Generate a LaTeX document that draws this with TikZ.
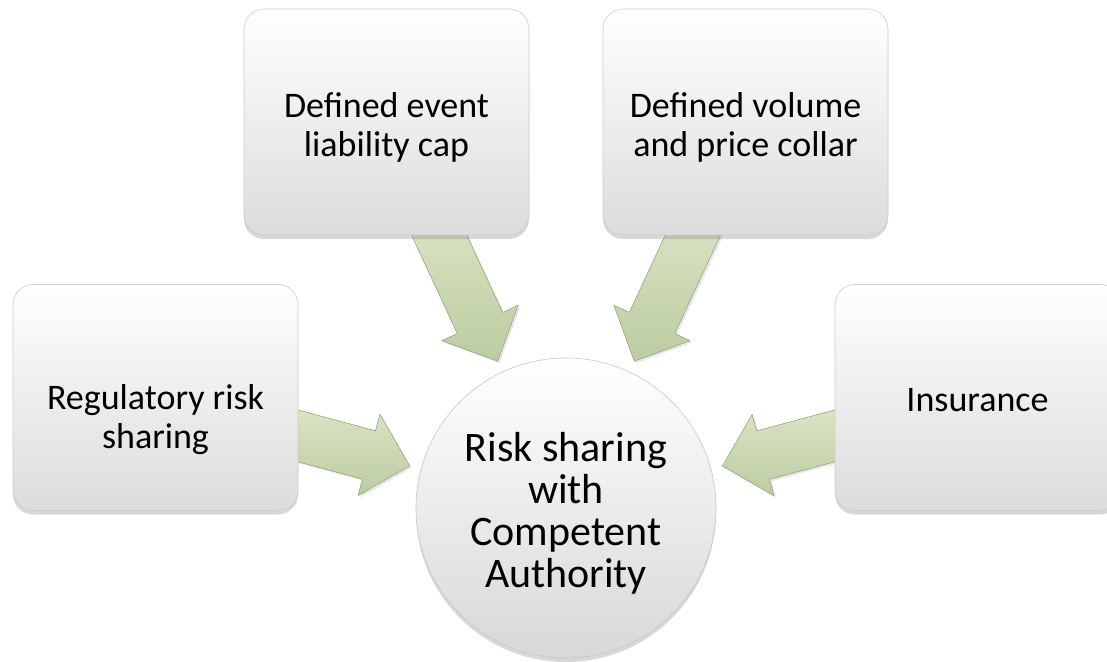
\documentclass[tikz,border=0pt]{standalone}
\usepackage{fontspec}
\setmainfont{Carlito}
\usetikzlibrary{calc,shadows}
\definecolor{boxedge}{RGB}{205,205,205}
\definecolor{boxlow}{RGB}{220,220,220}
\definecolor{orbedge}{RGB}{200,200,200}
\definecolor{orblow}{RGB}{216,216,216}
\definecolor{arrowlight}{RGB}{220,231,200}
\definecolor{arrowdark}{RGB}{188,204,160}
\definecolor{arrowedge}{RGB}{160,176,132}
\pgfdeclarelayer{bg}
\pgfsetlayers{bg,main}

% fat block arrow from the node #1 toward the node #2, ending short of #2
\newcommand\fatflow[2]{%
  \coordinate (aS) at ($(#2)!330pt!(#1)$);
  \coordinate (aT) at ($(#2)!162pt!(#1)$);
  \coordinate (aN) at ($(aT)!42pt!(aS)$);
  \filldraw[fatarrow]
    ($(aS)!25pt!90:(aT)$) -- ($(aN)!25pt!-90:(aS)$) -- ($(aN)!42pt!-90:(aS)$)
    -- (aT) -- ($(aN)!42pt!90:(aS)$) -- ($(aN)!25pt!90:(aS)$)
    -- ($(aS)!25pt!-90:(aT)$) -- cycle;
}

\begin{document}
\begin{tikzpicture}[x=1pt,y=-1pt,
  card/.style={draw=boxedge, line width=0.6pt, rounded corners=20pt,
    top color=white, bottom color=boxlow,
    minimum width=285pt, minimum height=226pt, inner sep=0pt,
    drop shadow={opacity=0.3, shadow xshift=0pt, shadow yshift=-4pt}},
  cardtext/.style={align=center, inner sep=0pt,
    font=\fontsize{36}{39}\selectfont},
  orb/.style={circle, draw=orbedge, line width=0.6pt,
    top color=white, bottom color=orblow,
    minimum size=300pt, inner sep=0pt,
    drop shadow={opacity=0.3, shadow xshift=0pt, shadow yshift=-4pt}},
  orbtext/.style={align=center, inner sep=0pt,
    font=\fontsize{42}{42}\selectfont},
  fatarrow/.style={draw=arrowedge, line width=0.5pt, line join=round,
    top color=arrowlight, bottom color=arrowdark,
    drop shadow={opacity=0.18, shadow xshift=2pt, shadow yshift=-2pt}}
]
\useasboundingbox (0,0) rectangle (1107,661);
\begin{pgfonlayer}{bg}
  \fill[white] (0,0) rectangle (1107,661);
\end{pgfonlayer}

% the five shapes
\node[card] (ev) at (386.5,122) {};
\node[card] (vol) at (745.5,122) {};
\node[card] (reg) at (155.5,397.5) {};
\node[card] (ins) at (977.5,397.5) {};
\node[orb] (ca) at (566,508) {};

% their labels
\node[cardtext] (evt) at ($(ev.center)+(0,5)$) {Defined event\\liability cap};
\node[cardtext] (volt) at ($(vol.center)+(0,5)$) {Defined volume\\and price collar};
\node[cardtext] (regt) at ($(reg.center)+(0,22)$) {Regulatory risk\\sharing};
\node[cardtext] (inst) at ($(ins.center)+(0,3)$) {Insurance};
\node[orbtext] (cat) at ($(ca.center)+(0,5)$) {Risk sharing\\with\\Competent\\Authority};

% arrows into the centre, drawn underneath the boxes
\begin{pgfonlayer}{bg}
  \fatflow{ev}{ca}
  \fatflow{vol}{ca}
  \fatflow{reg}{ca}
  \fatflow{ins}{ca}
\end{pgfonlayer}
\end{tikzpicture}
\end{document}
